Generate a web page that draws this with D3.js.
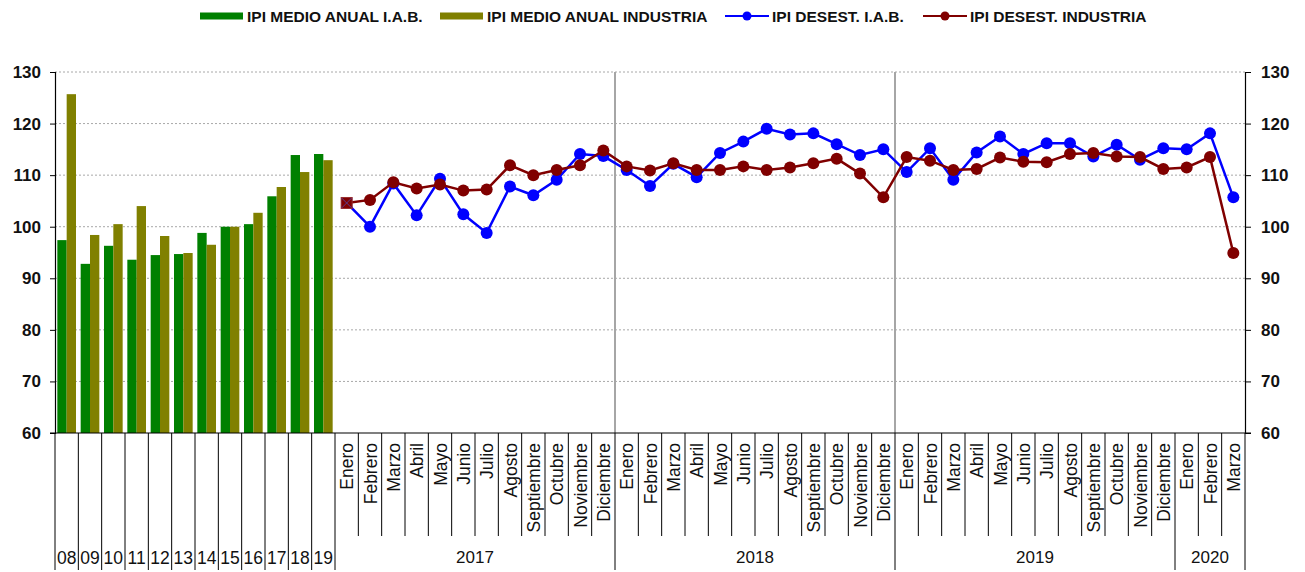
<!DOCTYPE html>
<html>
<head>
<meta charset="utf-8">
<script src="https://cdn.jsdelivr.net/npm/d3@7"></script>
<style>
  body { margin: 0; background: #fff; }
  svg { display: block; font-family: "Liberation Sans", Arial, sans-serif; }
</style>
</head>
<body>
<div id="chart"></div>
<script>
// annual averages (bars)
const yearCats = ['08', '09', '10', '11', '12', '13', '14', '15', '16', '17', '18', '19'];
const iabAnnual = [97.4, 92.8, 96.3, 93.6, 94.5, 94.7, 98.8, 100.0, 100.5, 105.9, 113.9, 114.1];
const industriaAnnual = [125.7, 98.4, 100.5, 104.0, 98.2, 94.9, 96.5, 100.0, 102.7, 107.7, 110.6, 112.9];

// monthly seasonally adjusted (lines)
const monthNames = ['Enero', 'Febrero', 'Marzo', 'Abril', 'Mayo', 'Junio', 'Julio', 'Agosto',
    'Septiembre', 'Octubre', 'Noviembre', 'Diciembre'];
const years = ['2017', '2018', '2019', '2020'];
const monthsPerYear = [12, 12, 12, 3];
const iabDesest = [
    104.6, 100.0, 108.4, 102.2, 109.3, 102.4, 98.8, 107.8, 106.1, 109.1, 114.1, 113.7,
    111.0, 107.9, 112.2, 109.6, 114.3, 116.5, 119.0, 117.9, 118.1, 116.0, 113.9, 115.0,
    110.6, 115.2, 109.1, 114.4, 117.5, 114.1, 116.2, 116.2, 113.6, 115.9, 113.0, 115.2,
    115.0, 118.1, 105.7
];
const industriaDesest = [
    104.6, 105.2, 108.6, 107.4, 108.2, 107.0, 107.2, 111.9, 110.0, 111.0, 111.9, 114.8,
    111.7, 110.9, 112.3, 111.0, 111.0, 111.7, 111.0, 111.5, 112.3, 113.2, 110.3, 105.7,
    113.5, 112.8, 111.0, 111.2, 113.4, 112.6, 112.5, 114.1, 114.3, 113.6, 113.5, 111.2,
    111.5, 113.5, 94.9
];
const yTicks = [60, 70, 80, 90, 100, 110, 120, 130];

const W = 1305, H = 572;
const mLeft = 55, mRight = 1245, mTop = 72, mBottom = 433;

// build category keys
let months = [];
years.forEach(function(yr, i) {
    for (let m = 0; m < monthsPerYear[i]; m++) {
        months.push({ key: yr + '-' + m, year: yr, name: monthNames[m] });
    }
});
months.forEach(function(d, i) {
    d.iab = iabDesest[i];
    d.ind = industriaDesest[i];
});
const allKeys = yearCats.concat(months.map(d => d.key));

const x = d3.scaleBand().domain(allKeys).range([mLeft, mRight]).padding(0);
const bw = x.bandwidth();
const xInner = d3.scaleBand().domain(['iab', 'ind']).range([0, bw])
    .paddingInner(0).paddingOuter(0.25);
const y = d3.scaleLinear().domain([60, 130]).range([mBottom, mTop]);

const svg = d3.select('#chart').append('svg')
    .attr('width', W).attr('height', H);

// gridlines
svg.append('g').selectAll('line')
    .data(yTicks.filter(t => t > 60))
    .enter().append('line')
    .attr('x1', mLeft).attr('x2', mRight)
    .attr('y1', d => y(d)).attr('y2', d => y(d))
    .attr('stroke', '#a8a8a8').attr('stroke-width', 1)
    .attr('stroke-dasharray', '2,2');

// year separators in plot
const sepYears = ['2018', '2019'];
svg.append('g').selectAll('line')
    .data(sepYears)
    .enter().append('line')
    .attr('x1', d => x(d + '-0')).attr('x2', d => x(d + '-0'))
    .attr('y1', mTop).attr('y2', mBottom)
    .attr('stroke', '#a6a6a6').attr('stroke-width', 2);

// bars
const barData = yearCats.map((c, i) => ({ cat: c, iab: iabAnnual[i], ind: industriaAnnual[i] }));
const barColors = { iab: '#008000', ind: '#808000' };
const bg = svg.append('g').selectAll('g')
    .data(barData).enter().append('g')
    .attr('transform', d => 'translate(' + x(d.cat) + ',0)');
bg.selectAll('rect')
    .data(d => ['iab', 'ind'].map(k => ({ k: k, v: d[k] })))
    .enter().append('rect')
    .attr('x', d => xInner(d.k))
    .attr('width', xInner.bandwidth())
    .attr('y', d => y(d.v))
    .attr('height', d => y(60) - y(d.v))
    .attr('fill', d => barColors[d.k]);

// axes
const yLeft = d3.axisLeft(y).tickValues(yTicks).tickSize(5).tickPadding(9);
const yRight = d3.axisRight(y).tickValues(yTicks).tickSize(6).tickPadding(10);
function styleAxis(g) {
    g.select('.domain').attr('stroke', '#000').attr('stroke-width', 1.2);
    g.selectAll('.tick line').attr('stroke', '#000');
    g.selectAll('.tick text')
        .attr('font-size', 17).attr('font-weight', 'bold')
        .attr('fill', '#111').attr('font-family', '"Liberation Sans", Arial, sans-serif');
}
svg.append('g').attr('transform', 'translate(' + mLeft + ',0)').call(yLeft).call(styleAxis);
svg.append('g').attr('transform', 'translate(' + mRight + ',0)').call(yRight).call(styleAxis);

// bottom axis line
svg.append('line')
    .attr('x1', mLeft - 5).attr('x2', mRight + 6)
    .attr('y1', mBottom).attr('y2', mBottom)
    .attr('stroke', '#000').attr('stroke-width', 1.2);

// category dividers
const xa = svg.append('g');
const fullBottom = 570, monthBottom = 536;
yearCats.forEach(function(c) {
    xa.append('line').attr('x1', x(c)).attr('x2', x(c))
        .attr('y1', mBottom).attr('y2', fullBottom).attr('stroke', '#000');
});
months.forEach(function(d, i) {
    const first = i === 0 || months[i - 1].year !== d.year;
    xa.append('line').attr('x1', x(d.key)).attr('x2', x(d.key))
        .attr('y1', mBottom).attr('y2', first ? fullBottom : monthBottom).attr('stroke', '#000');
});
xa.append('line').attr('x1', mRight).attr('x2', mRight)
    .attr('y1', mBottom).attr('y2', fullBottom).attr('stroke', '#000');

// year-category labels
xa.selectAll('text.yc')
    .data(yearCats).enter().append('text')
    .attr('x', d => x(d) + bw / 2).attr('y', 564)
    .attr('text-anchor', 'middle').attr('font-size', 17.5).attr('fill', '#111')
    .text(d => d);

// month labels
xa.selectAll('text.mn')
    .data(months).enter().append('text')
    .attr('transform', d => 'translate(' + (x(d.key) + bw / 2 + 6.5) + ',443) rotate(-90)')
    .attr('text-anchor', 'end').attr('font-size', 17.5).attr('fill', '#111')
    .text(d => d.name);

// year group labels
years.forEach(function(yr) {
    const ks = months.filter(d => d.year === yr);
    const x0 = x(ks[0].key), x1 = x(ks[ks.length - 1].key) + bw;
    xa.append('text')
        .attr('x', (x0 + x1) / 2).attr('y', 563)
        .attr('text-anchor', 'middle').attr('font-size', 17).attr('fill', '#111')
        .text(yr);
});

// lines
const cx = d => x(d.key) + bw / 2;
const series = [
    { k: 'iab', color: '#0000ff' },
    { k: 'ind', color: '#800000' }
];
series.forEach(function(s) {
    const line = d3.line().x(cx).y(d => y(d[s.k]));
    svg.append('path').datum(months)
        .attr('d', line).attr('fill', 'none')
        .attr('stroke', s.color).attr('stroke-width', 2.5);
    svg.append('g').selectAll('circle')
        .data(months.slice(1)).enter().append('circle')
        .attr('cx', cx).attr('cy', d => y(d[s.k]))
        .attr('r', 6).attr('fill', s.color);
    // first point uses a square marker
    const f = months[0];
    svg.append('rect')
        .attr('x', cx(f) - 5.5).attr('y', y(f[s.k]) - 5.5)
        .attr('width', 11).attr('height', 11)
        .attr('fill', s.color).attr('stroke', s.k === 'ind' ? '#9a3030' : 'none');
    if (s.k === 'ind') {
        svg.append('path')
            .attr('d', 'M' + (cx(f) - 5) + ',' + (y(f.ind) - 5) + 'L' + (cx(f) + 5) + ',' + (y(f.ind) + 5)
                + 'M' + (cx(f) + 5) + ',' + (y(f.ind) - 5) + 'L' + (cx(f) - 5) + ',' + (y(f.ind) + 5))
            .attr('stroke', '#5a3c8c').attr('stroke-width', 1);
    }
});

// legend
const legend = [
    { label: 'IPI MEDIO ANUAL I.A.B.', color: '#008000', type: 'bar', x: 200 },
    { label: 'IPI MEDIO ANUAL INDUSTRIA', color: '#808000', type: 'bar', x: 440 },
    { label: 'IPI DESEST. I.A.B.', color: '#0000ff', type: 'line', x: 725 },
    { label: 'IPI DESEST. INDUSTRIA', color: '#800000', type: 'line', x: 923 }
];
const lg = svg.append('g').selectAll('g')
    .data(legend).enter().append('g')
    .attr('transform', d => 'translate(' + d.x + ',16)');
lg.filter(d => d.type === 'bar').append('rect')
    .attr('x', 0).attr('y', -3.5).attr('width', 43).attr('height', 7)
    .attr('fill', d => d.color);
lg.filter(d => d.type === 'line').append('line')
    .attr('x1', 0).attr('x2', 44).attr('y1', 0).attr('y2', 0)
    .attr('stroke', d => d.color).attr('stroke-width', 2);
lg.filter(d => d.type === 'line').append('circle')
    .attr('cx', 22).attr('cy', 0).attr('r', 4.5).attr('fill', d => d.color);
lg.append('text')
    .attr('x', 47).attr('y', 5.5)
    .attr('font-size', 15.5).attr('font-weight', 'bold').attr('fill', '#111')
    .text(d => d.label);
</script>
</body>
</html>
